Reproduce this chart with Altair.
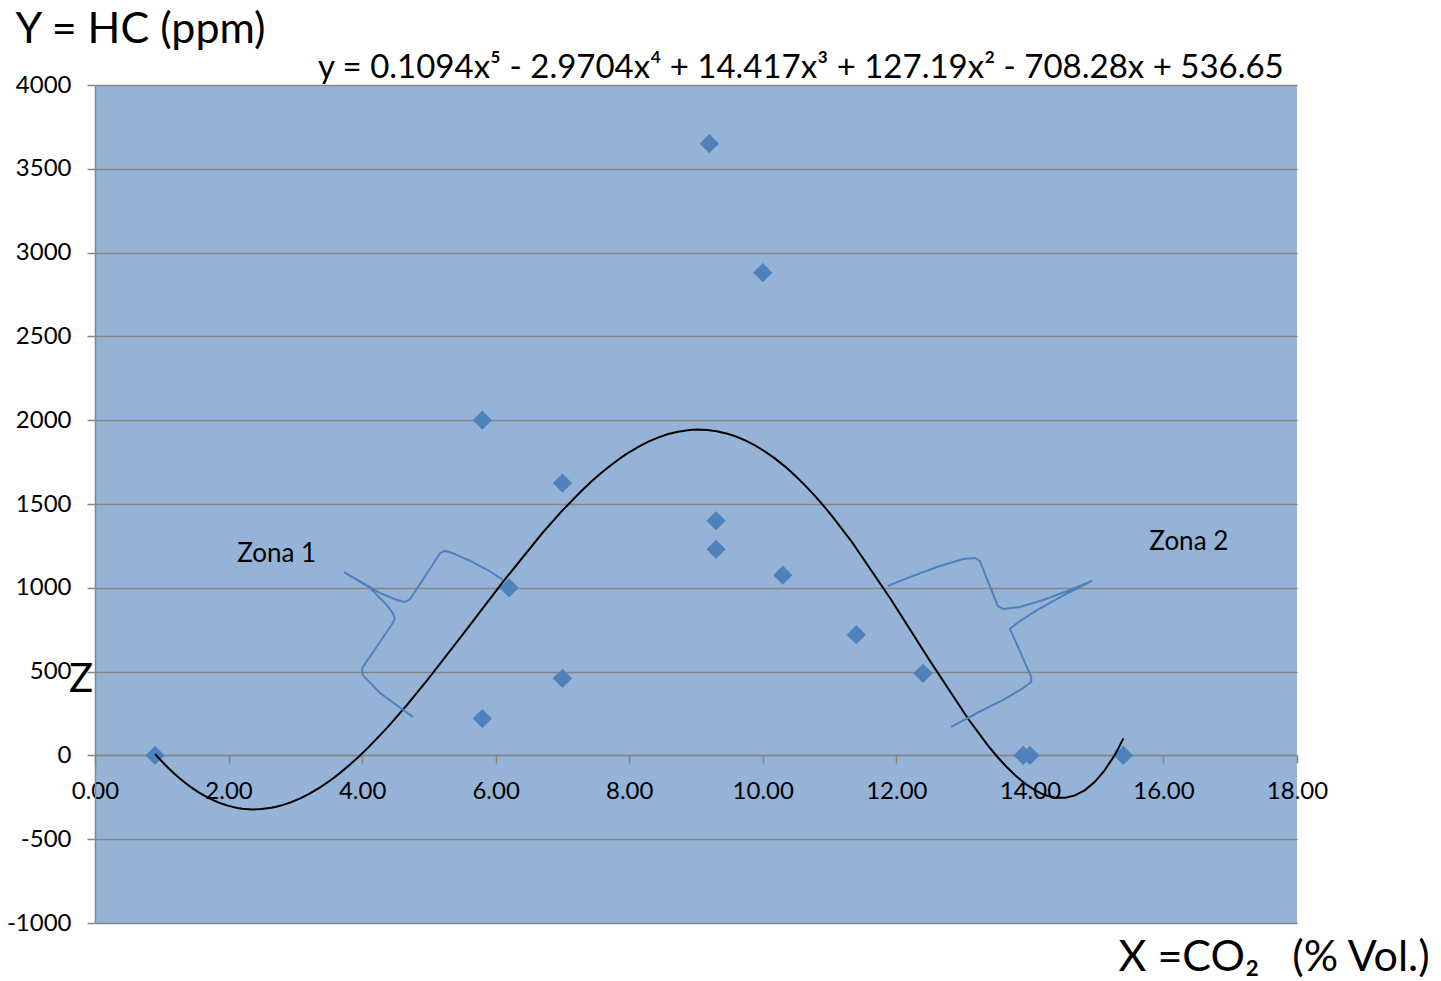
import altair as alt
import pandas as pd

# measured data points (CO2 % vol, HC ppm)
co2 = [0.9, 5.8, 5.8, 6.2, 7.0, 7.0, 9.2, 9.3, 9.3, 10.0, 10.3, 11.4, 12.4, 13.9, 14.0, 15.4]
hc = [0, 2000, 220, 1000, 1625, 460, 3650, 1400, 1230, 2880, 1075, 720, 490, 0, 0, 0]

# hand-drawn brace annotations (data units)
brace1_x = [6.11, 5.88, 5.62, 5.35, 5.24, 5.17, 4.72, 4.64, 4.52, 4.27, 4.01, 3.73,
            4.12, 4.37, 4.46, 4.49, 4.46, 4.01, 4.00, 4.01, 4.27, 4.76]
brace1_y = [1047, 1106, 1160, 1208, 1220, 1208, 933, 915, 927, 969, 1029, 1094,
            999, 897, 849, 819, 790, 527, 509, 479, 372, 229]
brace2_x = [11.87, 12.20, 12.61, 13.00, 13.18, 13.25, 13.52, 13.60, 13.85, 14.20, 14.60, 14.93,
            14.60, 14.11, 13.81, 13.70, 13.73, 14.02, 14.02, 13.90, 13.60, 13.21, 12.82]
brace2_y = [1011, 1064, 1124, 1172, 1178, 1160, 891, 874, 886, 927, 987, 1041,
            975, 868, 790, 754, 730, 468, 438, 402, 331, 253, 170]

labels = ["Zona 1", "Zona 2"]
label_x = [2.72, 16.38]
label_y = [1200, 1272]

x_ticks = [0, 2, 4, 6, 8, 10, 12, 14, 16, 18]
y_ticks = [-1000, -500, 0, 500, 1000, 1500, 2000, 2500, 3000, 3500, 4000]

equation = "y = 0.1094x\u2075 - 2.9704x\u2074 + 14.417x\u00b3 + 127.19x\u00b2 - 708.28x + 536.65"
eq_x = [10.57]
eq_y = [4042]

FONT = "Lato"
pts = pd.DataFrame({"x": co2, "y": hc})
braces = pd.concat([
    pd.DataFrame({"x": brace1_x, "y": brace1_y, "o": range(len(brace1_x)), "g": "b1"}),
    pd.DataFrame({"x": brace2_x, "y": brace2_y, "o": range(len(brace2_x)), "g": "b2"}),
])
lab = pd.DataFrame({"x": label_x, "y": label_y, "t": labels})

xs = alt.Scale(domain=[0, 18], nice=False, zero=False)
ys = alt.Scale(domain=[-1000, 4000], nice=False, zero=False)

xaxis = alt.Axis(values=x_ticks, format=".2f", grid=False, offset=-168,
                 domainColor="#868686", domainWidth=1.5, tickColor="#868686", tickWidth=1.5,
                 tickSize=8, labelFont=FONT, labelFontSize=24, labelColor="black", labelPadding=16,
                 labelFlush=False, labelOverlap=False,
                 title="X =CO\u2082\u00a0\u00a0\u00a0(% Vol.)", titleFont=FONT, titleFontSize=43,
                 titleFontWeight="normal", titleColor="black", titleAlign="left",
                 titleBaseline="alphabetic", titleX=1023, titleY=215)
yaxis = alt.Axis(values=y_ticks, labelExpr="datum.value + ''", grid=True, gridColor="#868686",
                 gridWidth=1.5, domainColor="#868686", domainWidth=1.5, tickColor="#868686",
                 tickWidth=1.5, tickSize=8, labelFont=FONT, labelFontSize=24, labelColor="black",
                 labelPadding=16, labelFlush=False, labelOverlap=False,
                 title="Y = HC (ppm)", titleFont=FONT, titleFontSize=43, titleFontWeight="normal",
                 titleColor="black", titleAngle=0, titleAlign="left", titleBaseline="alphabetic",
                 titleX=-80, titleY=-43)

base = alt.Chart(pts)

zlab = alt.Chart(pd.DataFrame({"x": [-0.39], "y": [378], "t": ["Z"]})).mark_text(
    font=FONT, fontSize=40, align="left", baseline="alphabetic", color="black", clip=False
).encode(x=alt.X("x:Q", scale=xs), y=alt.Y("y:Q", scale=ys), text="t:N")

points = base.mark_point(shape="diamond", filled=True, size=370, opacity=1, color="#4F81BD").encode(
    x=alt.X("x:Q", scale=xs, axis=xaxis), y=alt.Y("y:Q", scale=ys, axis=yaxis))

trend = base.transform_regression("x", "y", method="poly", order=5).mark_line(
    color="black", strokeWidth=2).encode(x=alt.X("x:Q", scale=xs), y=alt.Y("y:Q", scale=ys))

brace = alt.Chart(braces).mark_line(color="#4F81BD", strokeWidth=2).encode(
    x=alt.X("x:Q", scale=xs), y=alt.Y("y:Q", scale=ys), order="o:Q", detail="g:N")

texts = alt.Chart(lab).mark_text(font=FONT, fontSize=26, color="black").encode(
    x=alt.X("x:Q", scale=xs), y=alt.Y("y:Q", scale=ys), text="t:N")

eq = alt.Chart(pd.DataFrame({"x": eq_x, "y": eq_y, "t": [equation]})).mark_text(
    font=FONT, fontSize=33, color="black", baseline="alphabetic", align="center", clip=False
).encode(x=alt.X("x:Q", scale=xs), y=alt.Y("y:Q", scale=ys), text="t:N")

chart = alt.layer(zlab, points, trend, brace, texts, eq).properties(
    width=1202, height=838,
    padding={"left": 95, "top": 85, "right": 144, "bottom": 58},
    autosize=alt.AutoSizeParams(type="none"),
    background="white",
).configure_view(fill="#95B3D7", stroke=None)

chart.save("out.html", embed_options={"renderer": "svg", "actions": False})
